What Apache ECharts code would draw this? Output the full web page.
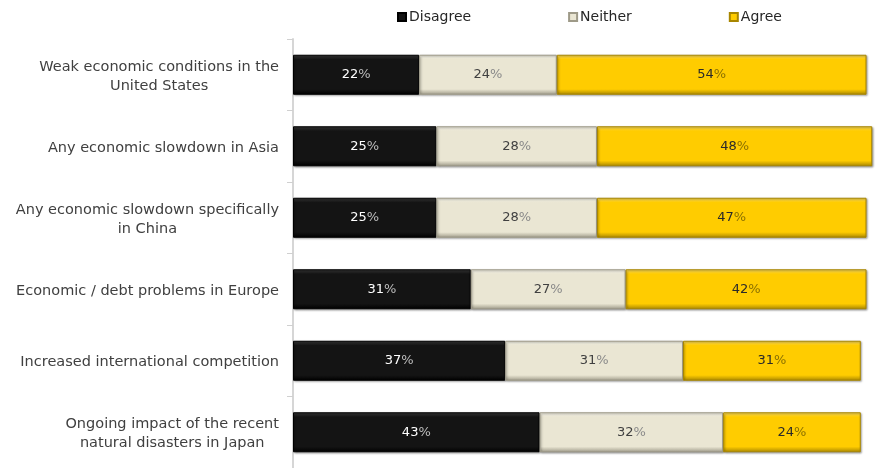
<!DOCTYPE html>
<html>
<head>
<meta charset="utf-8">
<script src="https://cdn.jsdelivr.net/npm/echarts@6/dist/echarts.min.js"></script>
<style>
  html, body { margin: 0; padding: 0; background: #fff; }
  #chart { width: 879px; height: 468px; }
</style>
</head>
<body>
<div id="chart"></div>
<script>
// Survey concerns, share of respondents per answer (percent)
const categories = [
  'Weak economic conditions in the\nUnited States',
  'Any economic slowdown in Asia',
  'Any economic slowdown specifically\nin China',
  'Economic / debt problems in Europe',
  'Increased international competition',
  'Ongoing impact of the recent\nnatural disasters in Japan'
];
const disagree = [22, 25, 25, 31, 37, 43];
const neither  = [24, 28, 28, 27, 31, 32];
const agree    = [54, 48, 47, 42, 31, 24];

const FONT = 'DejaVu Sans';

// vertical bevel: lighter top edge, darker bottom edge
function bevel(base, light, dark) {
  return new echarts.graphic.LinearGradient(0, 0, 0, 1, [
    { offset: 0, color: light },
    { offset: 0.12, color: base },
    { offset: 0.86, color: base },
    { offset: 1, color: dark }
  ]);
}

function makeSeries(name, data, base, light, dark, numColor, pctColor) {
  return {
    name: name,
    type: 'bar',
    stack: 'total',
    barWidth: 40,
    data: data,
    itemStyle: {
      color: bevel(base, light, dark),
      borderColor: dark,
      borderWidth: 1,
      shadowColor: 'rgba(0,0,0,0.35)',
      shadowBlur: 2,
      shadowOffsetX: 1,
      shadowOffsetY: 1
    },
    label: {
      show: true,
      position: 'inside',
      formatter: p => '{n|' + p.value + '}{p|%}',
      rich: {
        n: { color: numColor, fontSize: 13, fontFamily: FONT },
        p: { color: pctColor, fontSize: 13, fontFamily: FONT }
      }
    }
  };
}

const chart = echarts.init(document.getElementById('chart'));
chart.setOption({
  animation: false,
  backgroundColor: '#ffffff',
  color: ['#141414', '#eae6d3', '#ffcc00'],
  legend: {
    top: 5,
    left: 392,
    itemWidth: 8,
    itemHeight: 8,
    itemGap: 97,
    icon: 'rect',
    textStyle: { fontFamily: FONT, fontSize: 14, color: '#262626', padding: [0, 0, 0, -2] },
    data: ['Disagree', 'Neither', 'Agree']
  },
  grid: { left: 293, top: 39, height: 432, right: 1 },
  xAxis: {
    type: 'value',
    min: 0,
    max: 102,
    show: false
  },
  yAxis: {
    type: 'category',
    data: categories,
    inverse: true,
    axisLine: { show: true, lineStyle: { color: '#d6d6d6', width: 2 } },
    axisTick: { show: true, length: 6, lineStyle: { color: '#d0d0d0' } },
    axisLabel: {
      margin: 14,
      padding: [3, 0, 0, 0],
      formatter: v => v.split('\n').map(s => '{c|' + s + '}').join('\n'),
      rich: {
        c: { align: 'center', fontFamily: FONT, fontSize: 14.5, color: '#404040', lineHeight: 19 }
      }
    }
  },
  series: [
    makeSeries('Disagree', disagree, '#141414', '#3a3a3a', '#000000', '#ffffff', '#bdbdbd'),
    makeSeries('Neither', neither, '#eae6d3', '#f8f6ec', '#9e9a88', '#404040', '#8a8a8a'),
    makeSeries('Agree', agree, '#ffcc00', '#ffe066', '#a88600', '#2a2a2a', '#8a7000')
  ]
});
</script>
</body>
</html>
